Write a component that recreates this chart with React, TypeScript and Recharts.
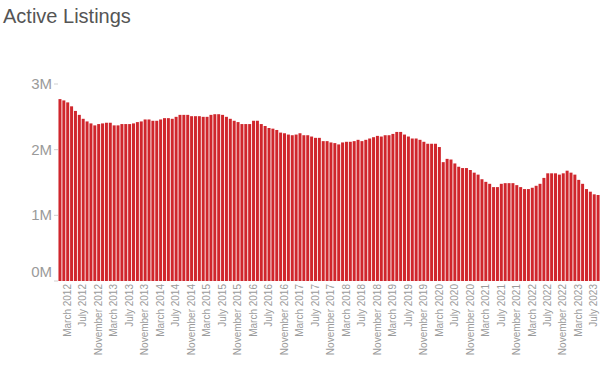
import React from "react";
import { BarChart, Bar, XAxis, YAxis } from "recharts";

// month names used to build the category labels (Mar 2012 .. Oct 2023)
const MONTHS = [
  "January", "February", "March", "April", "May", "June",
  "July", "August", "September", "October", "November", "December",
];
const START_YEAR = 2012;
const START_MONTH = 2; // March

// active listings, millions, one per month
const LISTINGS = [
  2.77, 2.75, 2.72, 2.66, 2.59, 2.53, 2.47, 2.43, 2.40, 2.37,
  2.39, 2.40, 2.41, 2.41, 2.37, 2.37, 2.39, 2.39, 2.39, 2.40,
  2.42, 2.43, 2.46, 2.46, 2.44, 2.44, 2.46, 2.48, 2.48, 2.47,
  2.50, 2.53, 2.53, 2.53, 2.51, 2.51, 2.51, 2.50, 2.50, 2.53,
  2.54, 2.54, 2.53, 2.50, 2.47, 2.44, 2.42, 2.39, 2.39, 2.39,
  2.44, 2.44, 2.39, 2.36, 2.33, 2.32, 2.30, 2.26, 2.25, 2.23,
  2.22, 2.23, 2.25, 2.22, 2.22, 2.20, 2.18, 2.18, 2.13, 2.13,
  2.11, 2.10, 2.08, 2.11, 2.12, 2.12, 2.13, 2.15, 2.13, 2.15,
  2.17, 2.19, 2.21, 2.20, 2.22, 2.22, 2.24, 2.27, 2.27, 2.23,
  2.20, 2.17, 2.17, 2.15, 2.12, 2.09, 2.09, 2.09, 2.04, 1.81,
  1.86, 1.85, 1.79, 1.74, 1.72, 1.72, 1.69, 1.65, 1.62, 1.55,
  1.51, 1.48, 1.43, 1.43, 1.48, 1.49, 1.49, 1.49, 1.46, 1.43,
  1.40, 1.40, 1.42, 1.45, 1.48, 1.57, 1.64, 1.64, 1.64, 1.62,
  1.64, 1.68, 1.65, 1.62, 1.54, 1.48, 1.40, 1.36, 1.32, 1.31,
];

const Y_TICKS = [0, 1, 2, 3];

const data = LISTINGS.map((v, i) => {
  const m = START_MONTH + i;
  return {
    month: `${MONTHS[m % 12]} ${START_YEAR + Math.floor(m / 12)}`,
    listings: v,
  };
});

const FONT = "'Liberation Sans', Arial, sans-serif";

const XTick = ({ x, y, payload }: any) => (
  <g transform={`translate(${x},${y})`}>
    <text
      transform="rotate(-90)"
      x={0}
      y={0}
      dy={11}
      textAnchor="end"
      fontSize={10}
      fontFamily={FONT}
      fill="#9a9a9a"
    >
      {payload.value}
    </text>
  </g>
);

const YTick = ({ x, y, payload }: any) => (
  <text
    x={x}
    y={payload.value === 0 ? y - 9 : y}
    dy={5}
    textAnchor="end"
    fontSize={15}
    fontFamily={FONT}
    fill="#9a9a9a"
  >
    {`${payload.value}M`}
  </text>
);

export default function App() {
  return (
    <div style={{ position: "absolute", left: 0, top: 0, width: 610, height: 369, background: "#fff" }}>
      <div
        style={{
          position: "absolute",
          left: 3,
          top: 4,
          fontFamily: FONT,
          fontSize: 20,
          color: "#555",
          lineHeight: "24px",
        }}
      >
        Active Listings
      </div>
      <BarChart
        width={610}
        height={369}
        data={data}
        margin={{ top: 84, right: 10, left: 0, bottom: 0 }}
        barCategoryGap="12%"
      >
        <XAxis
          dataKey="month"
          interval={3}
          axisLine={false}
          tickLine={false}
          tickSize={0}
          tickMargin={3}
          height={88}
          tick={<XTick />}
        />
        <YAxis
          width={58}
          domain={[0, 3]}
          ticks={Y_TICKS}
          axisLine={false}
          tickLine={{ stroke: "#d0d0d0" }}
          tickSize={4}
          tick={<YTick />}
        />
        <Bar dataKey="listings" fill="#d0262c" isAnimationActive={false} />
      </BarChart>
    </div>
  );
}
